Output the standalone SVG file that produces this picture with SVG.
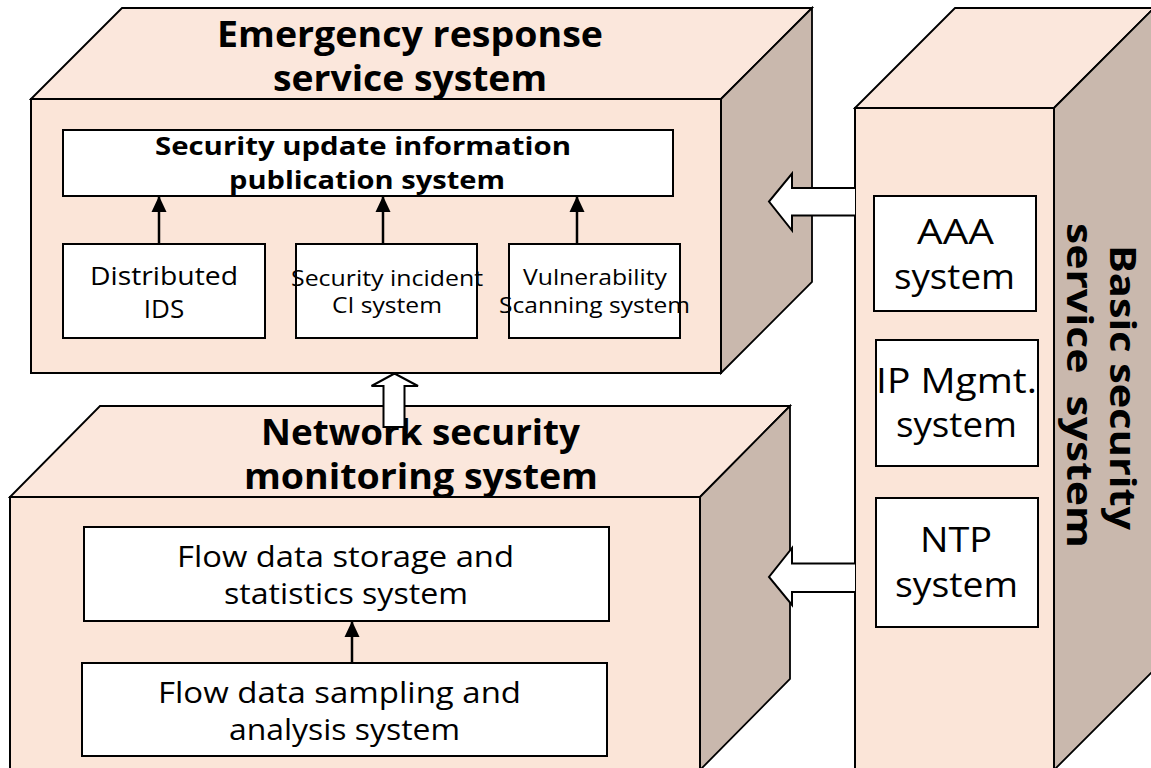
<svg xmlns="http://www.w3.org/2000/svg" width="1151" height="768" viewBox="0 0 1151 768">
  <style>
    .face { fill: #FBE5D8; stroke: #000; stroke-width: 2; stroke-linejoin: miter; }
    .top { fill: #FBE7DC; stroke: #000; stroke-width: 1.8; }
    .side { fill: #C9B8AD; stroke: #000; stroke-width: 1.8; }
    .box { fill: #FFFFFF; stroke: #000; stroke-width: 2; }
    .title { font-family: "Open Sans", "Noto Sans", sans-serif; font-weight: bold; font-size: 35px; fill: #000; text-anchor: middle; }
    .sub { font-family: "Open Sans", "Noto Sans", sans-serif; font-weight: bold; font-size: 25px; fill: #000; text-anchor: middle; }
    .lbl { font-family: "Open Sans", "Noto Sans", sans-serif; font-size: 26px; fill: #000; text-anchor: middle; }
    .sm { font-family: "Open Sans", "Noto Sans", sans-serif; font-size: 22px; fill: #000; text-anchor: middle; }
    .md { font-family: "Open Sans", "Noto Sans", sans-serif; font-size: 30px; fill: #000; text-anchor: middle; }
    .lg { font-family: "Open Sans", "Noto Sans", sans-serif; font-size: 35px; fill: #000; text-anchor: middle; }
    .link { stroke: #000; stroke-width: 2.5; fill: none; marker-end: url(#head); }
    .hollow { fill: #FFFFFF; stroke: #000; stroke-width: 2; stroke-linejoin: miter; }
  </style>
  <defs>
    <marker id="head" markerUnits="userSpaceOnUse" markerWidth="16" markerHeight="16" viewBox="0 0 16 16" refX="15" refY="8" orient="auto">
      <path d="M0,0.5 L16,8 L0,15.5 Z" fill="#000"/>
    </marker>
  </defs>

  <!-- Emergency response service system block -->
  <g id="emergency-response">
    <polygon class="top" points="31,99 122,8 812,8 721,99"/>
    <polygon class="side" points="721,99 812,8 812,282 721,373"/>
    <rect class="face" x="31" y="99" width="690" height="274"/>
    <text class="title" x="410" y="47" textLength="386" lengthAdjust="spacingAndGlyphs">Emergency response</text>
    <text class="title" x="410" y="91" textLength="274" lengthAdjust="spacingAndGlyphs">service system</text>
  </g>
  <g id="security-update">
    <rect class="box" x="63" y="130" width="610" height="66"/>
    <text class="sub" x="363" y="155" textLength="416" lengthAdjust="spacingAndGlyphs">Security update information</text>
    <text class="sub" x="367" y="189" textLength="276" lengthAdjust="spacingAndGlyphs">publication system</text>
  </g>
  <g id="distributed-ids">
    <rect class="box" x="63" y="244" width="202" height="94"/>
    <text class="lbl" x="164" y="285" textLength="148" lengthAdjust="spacingAndGlyphs">Distributed</text>
    <text class="lbl" x="164" y="318">IDS</text>
  </g>
  <g id="incident-ci">
    <rect class="box" x="296" y="244" width="181" height="94"/>
    <text class="sm" x="387" y="286" textLength="192" lengthAdjust="spacingAndGlyphs">Security incident</text>
    <text class="sm" x="387" y="313" textLength="110" lengthAdjust="spacingAndGlyphs">CI system</text>
  </g>
  <g id="vulnerability-scanning">
    <rect class="box" x="509" y="244" width="171" height="94"/>
    <text class="sm" x="595" y="285" textLength="144" lengthAdjust="spacingAndGlyphs">Vulnerability</text>
    <text class="sm" x="594.5" y="313" textLength="191" lengthAdjust="spacingAndGlyphs">Scanning system</text>
  </g>

  <!-- Network security monitoring system block -->
  <g id="network-monitoring">
    <polygon class="top" points="10,497 100,406 790,406 700,497"/>
    <polygon class="side" points="700,497 790,406 790,679 700,770"/>
    <rect class="face" x="10" y="497" width="690" height="273"/>
    <text class="title" x="420.5" y="445" textLength="319" lengthAdjust="spacingAndGlyphs">Network security</text>
    <text class="title" x="421" y="489" textLength="354" lengthAdjust="spacingAndGlyphs">monitoring system</text>
  </g>
  <g id="flow-storage">
    <rect class="box" x="84" y="527" width="525" height="94"/>
    <text class="md" x="345.5" y="567" textLength="337" lengthAdjust="spacingAndGlyphs">Flow data storage and</text>
    <text class="md" x="346" y="604" textLength="244" lengthAdjust="spacingAndGlyphs">statistics system</text>
  </g>
  <g id="flow-sampling">
    <rect class="box" x="82" y="663" width="525" height="93"/>
    <text class="md" x="339.5" y="703" textLength="363" lengthAdjust="spacingAndGlyphs">Flow data sampling and</text>
    <text class="md" x="344.5" y="740" textLength="231" lengthAdjust="spacingAndGlyphs">analysis system</text>
  </g>

  <!-- Basic security service system column -->
  <g id="basic-security">
    <polygon class="top" points="855,108 955,8 1154,8 1054,108"/>
    <polygon class="side" points="1054,108 1154,8 1154,670 1054,770"/>
    <rect class="face" x="855" y="108" width="199" height="662"/>
    <text class="title" transform="translate(1110,387.5) rotate(90)" x="0" y="0" textLength="285" lengthAdjust="spacingAndGlyphs">Basic security</text>
    <text class="title" transform="translate(1067,385.5) rotate(90)" x="0" y="0" textLength="325" lengthAdjust="spacingAndGlyphs" xml:space="preserve">service  system</text>
  </g>
  <g id="aaa">
    <rect class="box" x="874" y="196" width="162" height="115"/>
    <text class="lg" x="955.5" y="244" textLength="77" lengthAdjust="spacingAndGlyphs">AAA</text>
    <text class="lg" x="954.5" y="289" textLength="121" lengthAdjust="spacingAndGlyphs">system</text>
  </g>
  <g id="ip-mgmt">
    <rect class="box" x="876" y="340" width="162" height="126"/>
    <text class="lg" x="956.5" y="393" textLength="161" lengthAdjust="spacingAndGlyphs">IP Mgmt.</text>
    <text class="lg" x="956.5" y="437" textLength="121" lengthAdjust="spacingAndGlyphs">system</text>
  </g>
  <g id="ntp">
    <rect class="box" x="876" y="498" width="162" height="129"/>
    <text class="lg" x="956" y="552" textLength="72" lengthAdjust="spacingAndGlyphs">NTP</text>
    <text class="lg" x="956.5" y="597" textLength="123" lengthAdjust="spacingAndGlyphs">system</text>
  </g>

  <!-- Connectors -->
  <g id="connectors">
    <line class="link" x1="159" y1="244" x2="159" y2="197"/>
    <line class="link" x1="383" y1="244" x2="383" y2="197"/>
    <line class="link" x1="577" y1="244" x2="577" y2="197"/>
    <line class="link" x1="352" y1="663" x2="352" y2="622"/>
    <!-- block arrows -->
    <path class="hollow" d="M383.5,427 L383.5,386 L371.5,386 L394.5,373.5 L418,386 L404.5,386 L404.5,427 Z"/>
    <path class="hollow" d="M855,188 L792,188 L792,173.5 L769,201.5 L792,230.5 L792,215.5 L855,215.5"/>
    <path class="hollow" d="M855,563.5 L792,563.5 L792,548 L769,577 L792,605 L792,592 L855,592"/>
  </g>
</svg>
